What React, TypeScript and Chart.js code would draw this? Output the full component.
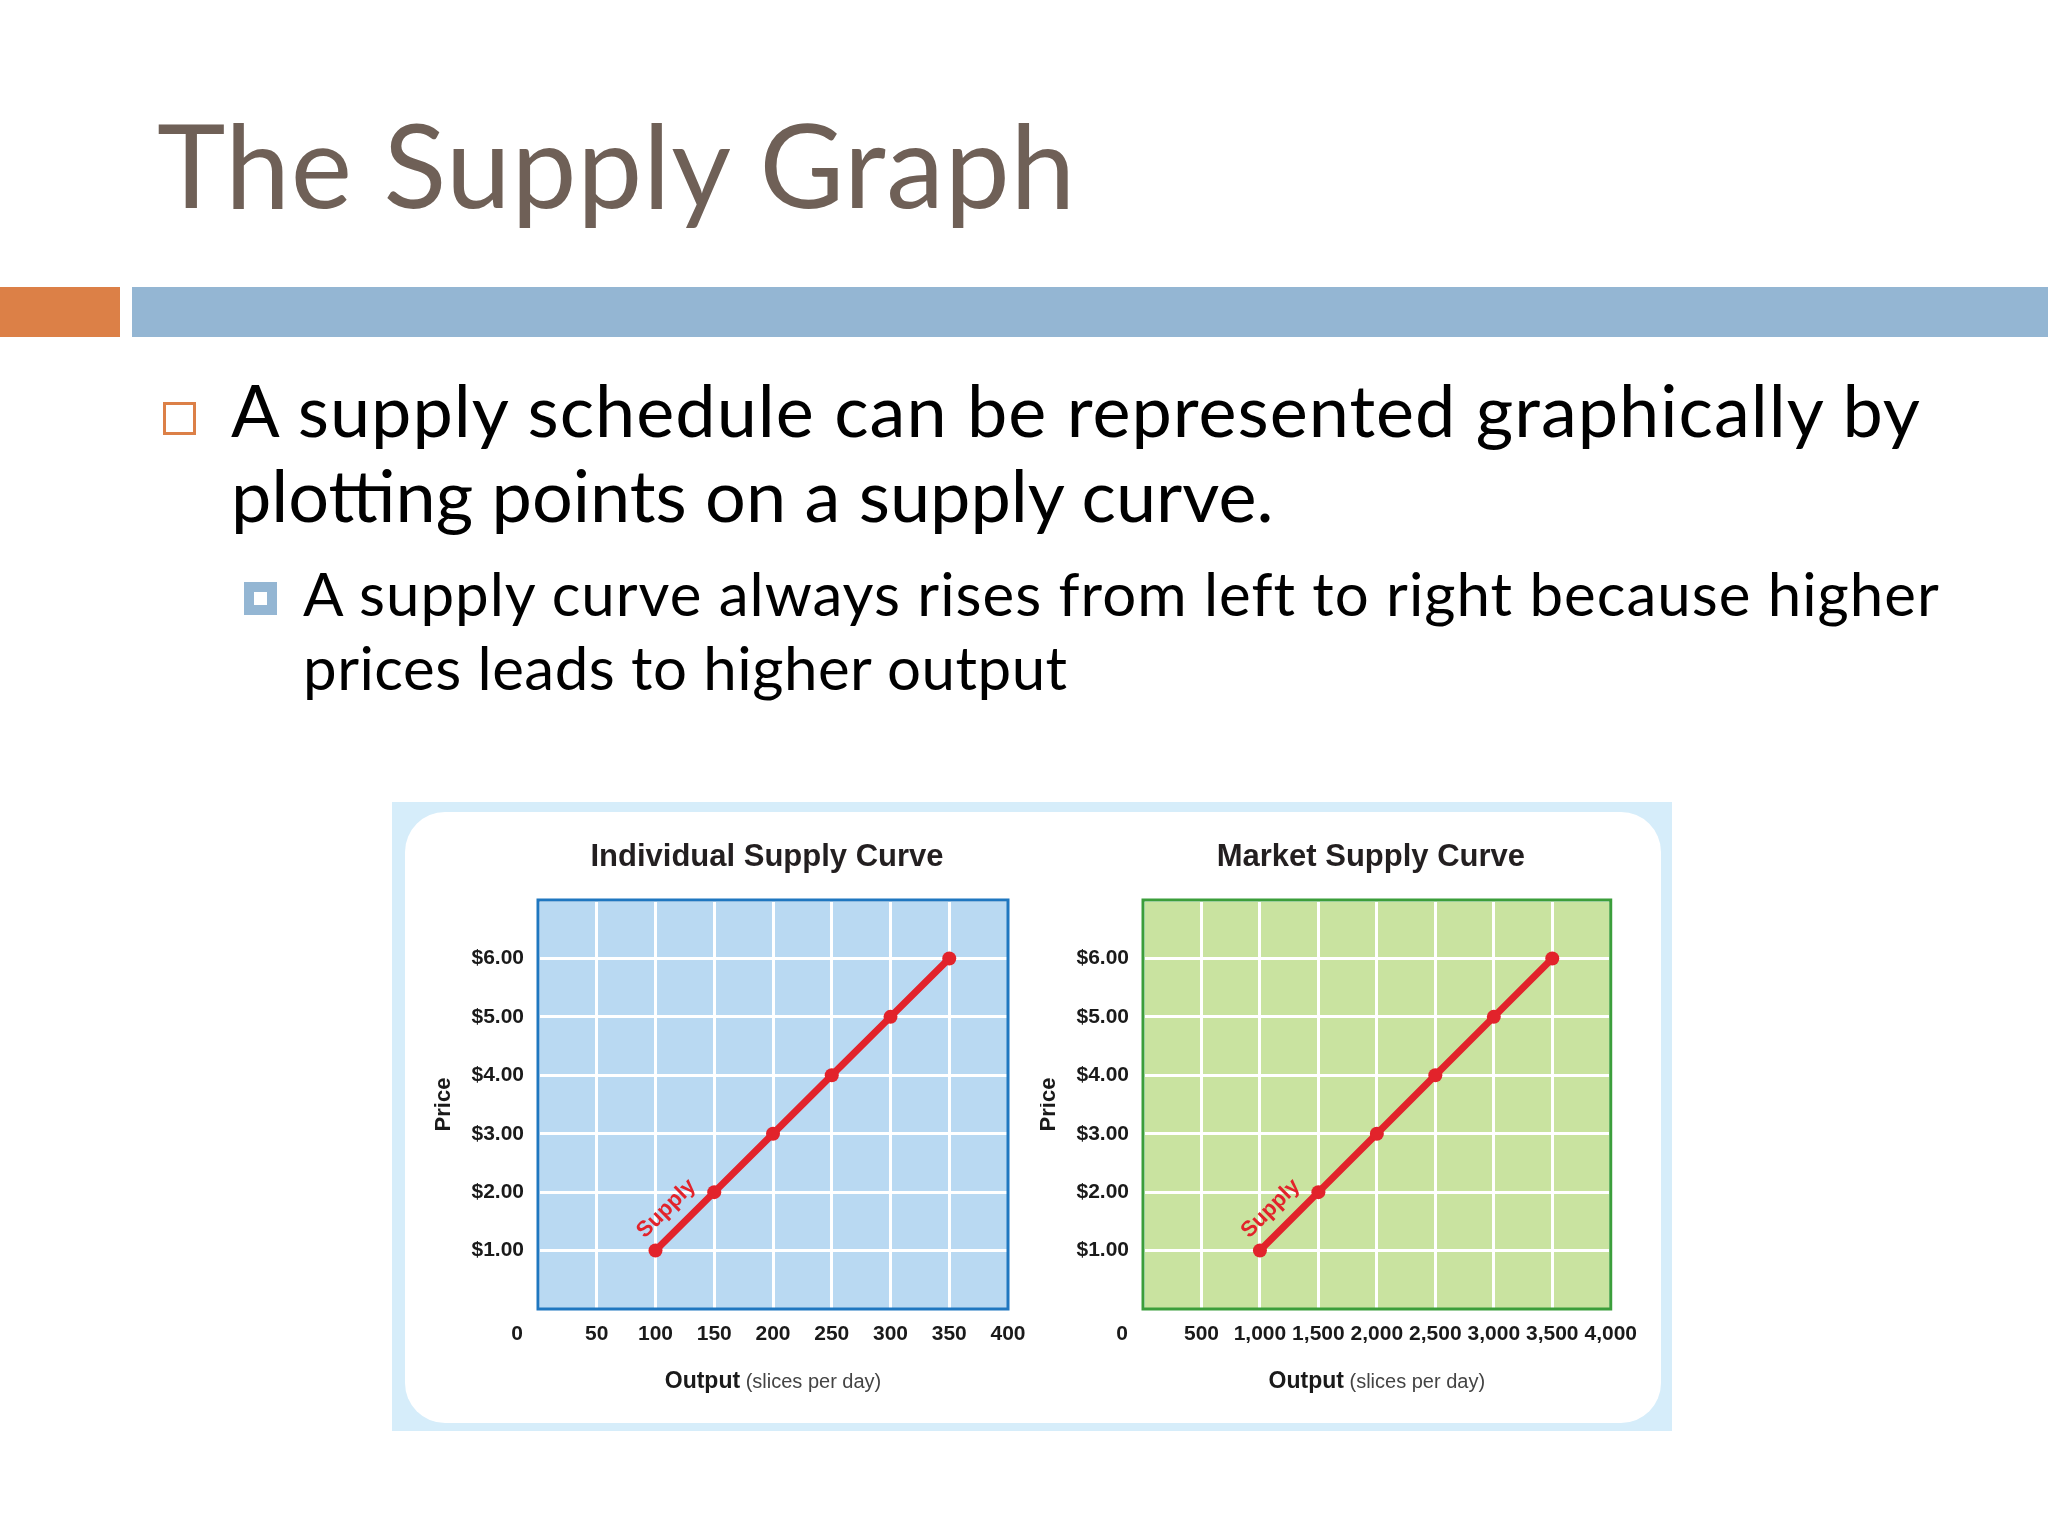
import React, { useEffect, useRef } from 'react';
import { Chart, registerables } from 'chart.js';

Chart.register(...registerables);

// ---------- data ----------
const prices = [1, 2, 3, 4, 5, 6];
const individualOutput = [100, 150, 200, 250, 300, 350];
const marketOutput = [1000, 1500, 2000, 2500, 3000, 3500];
const priceTickLabels = ['$1.00', '$2.00', '$3.00', '$4.00', '$5.00', '$6.00'];
const individualXTickLabels = ['50', '100', '150', '200', '250', '300', '350', '400'];
const marketXTickLabels = ['500', '1,000', '1,500', '2,000', '2,500', '3,000', '3,500', '4,000'];

const RED = '#e2232b';
const NARROW = "'Liberation Sans', Arial, sans-serif";
const BODY = "Lato, 'Open Sans', sans-serif";

type ChartProps = {
  left: number;
  top: number;
  width: number;
  height: number;
  padRight: number;
  yAxisWidth: number;
  title: string;
  xs: number[];
  xMax: number;
  xStep: number;
  xTickLabels: string[];
  fill: string;
  border: string;
};

function makeDecor(p: ChartProps) {
  return {
    id: 'decor',
    beforeDraw(chart: any) {
      const { ctx, chartArea: a } = chart;
      ctx.save();
      ctx.fillStyle = p.fill;
      ctx.fillRect(a.left, a.top, a.right - a.left, a.bottom - a.top);
      ctx.restore();
    },
    beforeDatasetsDraw(chart: any) {
      const { ctx, chartArea: a } = chart;
      ctx.save();
      ctx.strokeStyle = p.border;
      ctx.lineWidth = 3;
      ctx.strokeRect(a.left, a.top, a.right - a.left, a.bottom - a.top);
      ctx.restore();
    },
    afterDraw(chart: any) {
      const { ctx, chartArea: a } = chart;
      const cx = (a.left + a.right) / 2;
      ctx.save();
      // title
      ctx.fillStyle = '#231f20';
      ctx.font = "bold 31px 'Liberation Sans', Arial, sans-serif";
      ctx.textAlign = 'center';
      ctx.textBaseline = 'middle';
      ctx.fillText(p.title, cx - 6, 37);

      // origin label
      ctx.font = `bold 21px ${NARROW}`;
      ctx.fillStyle = '#1a1a1a';
      ctx.fillText('0', chart.scales.x.getPixelForValue(0) - 21, a.bottom + 25);

      // Price
      ctx.save();
      ctx.translate(a.left - 94, (a.top + a.bottom) / 2);
      ctx.rotate(-Math.PI / 2);
      ctx.font = `bold 22px ${NARROW}`;
      ctx.fillText('Price', 0, 0);
      ctx.restore();

      // Output (slices per day)
      const b = 'Output';
      const r = ' (slices per day)';
      ctx.font = `bold 23px ${NARROW}`;
      const wb = ctx.measureText(b).width;
      ctx.font = `20px ${NARROW}`;
      const wr = ctx.measureText(r).width;
      const x0 = cx - (wb + wr) / 2;
      ctx.textAlign = 'left';
      ctx.textBaseline = 'alphabetic';
      ctx.font = `bold 23px ${NARROW}`;
      ctx.fillStyle = '#1a1a1a';
      ctx.fillText(b, x0, a.bottom + 79);
      ctx.font = `20px ${NARROW}`;
      ctx.fillStyle = '#444';
      ctx.fillText(r, x0 + wb, a.bottom + 79);

      // Supply label along first segment
      const pts = chart.getDatasetMeta(0).data;
      const p0 = pts[0];
      const p1 = pts[1];
      const ang = Math.atan2(p1.y - p0.y, p1.x - p0.x);
      const mx = (p0.x + p1.x) / 2;
      const my = (p0.y + p1.y) / 2;
      const nx = Math.sin(ang);
      const ny = -Math.cos(ang);
      const off = 22;
      const along = -4;
      ctx.translate(mx + nx * off + Math.cos(ang) * along, my + ny * off + Math.sin(ang) * along);
      ctx.rotate(ang);
      ctx.textAlign = 'center';
      ctx.textBaseline = 'middle';
      ctx.fillStyle = RED;
      ctx.font = `bold 22px ${NARROW}`;
      ctx.fillText('Supply', 0, 0);
      ctx.restore();
    },
  };
}

function SupplyChart(p: ChartProps) {
  const ref = useRef<HTMLCanvasElement>(null);
  useEffect(() => {
    const tickFont = { family: NARROW, size: 21, weight: 'bold' as const };
    const chart = new Chart(ref.current as HTMLCanvasElement, {
      type: 'line',
      data: {
        datasets: [
          {
            data: p.xs.map((x, i) => ({ x, y: prices[i] })),
            borderColor: RED,
            backgroundColor: RED,
            borderWidth: 7,
            pointRadius: 7,
            pointBackgroundColor: RED,
            pointBorderWidth: 0,
            tension: 0,
            clip: false as any,
          },
        ],
      },
      options: {
        animation: false,
        responsive: false,
        devicePixelRatio: 1,
        layout: { padding: { top: 80, right: p.padRight, left: 0, bottom: 0 } },
        plugins: {
          legend: { display: false },
          tooltip: { enabled: false },
          title: { display: false },
        },
        scales: {
          x: {
            type: 'linear',
            min: 0,
            max: p.xMax,
            ticks: {
              stepSize: p.xStep,
              autoSkip: false,
              maxRotation: 0,
              padding: 13,
              color: '#1a1a1a',
              font: tickFont,
              callback: (v: any) => {
                const i = Math.round(Number(v) / p.xStep) - 1;
                return i >= 0 ? p.xTickLabels[i] : '';
              },
            },
            grid: { color: '#ffffff', lineWidth: 3, drawTicks: false },
            border: { display: false },
            afterFit: (s: any) => {
              s.height = p.height - 489;
            },
          },
          y: {
            type: 'linear',
            min: 0,
            max: 7,
            ticks: {
              stepSize: 1,
              autoSkip: false,
              padding: 14,
              color: '#1a1a1a',
              font: tickFont,
              callback: (v: any) => {
                const n = Number(v);
                return n >= 1 && n <= 6 ? priceTickLabels[n - 1] : '';
              },
            },
            grid: { color: '#ffffff', lineWidth: 3, drawTicks: false },
            border: { display: false },
            afterFit: (s: any) => {
              s.width = p.yAxisWidth;
            },
          },
        },
      },
      plugins: [makeDecor(p)],
    } as any);
    return () => chart.destroy();
  }, []);
  return (
    <canvas
      ref={ref}
      width={p.width}
      height={p.height}
      style={{ position: 'absolute', left: p.left, top: p.top, width: p.width, height: p.height }}
    />
  );
}

function Line({
  text,
  left,
  baseline,
  size,
  color = '#000',
  spacing = 0,
}: {
  text: string;
  left: number;
  baseline: number;
  size: number;
  color?: string;
  spacing?: number;
}) {
  return (
    <div
      style={{
        position: 'absolute',
        left,
        top: baseline - 0.887 * size,
        fontSize: size,
        lineHeight: `${size}px`,
        fontFamily: BODY,
        color,
        whiteSpace: 'nowrap',
        letterSpacing: spacing,
      }}
    >
      {text}
    </div>
  );
}

export default function App() {
  return (
    <div
      style={{
        position: 'absolute',
        left: 0,
        top: 0,
        width: 2048,
        height: 1536,
        background: '#ffffff',
        overflow: 'hidden',
      }}
    >
      <Line text="The Supply Graph" left={157} baseline={209} size={116} color="#6f6057" spacing={0.8} />
      <div style={{ position: 'absolute', left: 0, top: 287, width: 120, height: 50, background: '#dc8047' }} />
      <div style={{ position: 'absolute', left: 132, top: 287, width: 1916, height: 50, background: '#94b6d3' }} />

      <div
        style={{
          position: 'absolute',
          left: 163,
          top: 402,
          width: 27,
          height: 27,
          border: '3px solid #dc8047',
          background: '#fff',
        }}
      />
      <Line text="A supply schedule can be represented graphically by" left={231} baseline={437} size={72} spacing={1} />
      <Line text="plotting points on a supply curve." left={231} baseline={522} size={72} spacing={0} />

      <div
        style={{
          position: 'absolute',
          left: 244,
          top: 582,
          width: 33,
          height: 33,
          background: '#94b6d3',
        }}
      >
        <div style={{ position: 'absolute', left: 10, top: 10, width: 13, height: 13, background: '#fff' }} />
      </div>
      <Line text="A supply curve always rises from left to right because higher" left={303} baseline={616} size={60} spacing={1} />
      <Line text="prices leads to higher output" left={303} baseline={690} size={60} spacing={0.5} />

      <div style={{ position: 'absolute', left: 392, top: 802, width: 1280, height: 629, background: '#d6edfa' }} />
      <div
        style={{
          position: 'absolute',
          left: 405,
          top: 812,
          width: 1256,
          height: 611,
          background: '#ffffff',
          borderRadius: 40,
        }}
      />

      <SupplyChart
        left={420}
        top={820}
        width={620}
        height={600}
        padRight={32}
        yAxisWidth={118}
        title="Individual Supply Curve"
        xs={individualOutput}
        xMax={400}
        xStep={50}
        xTickLabels={individualXTickLabels}
        fill="#b9d9f2"
        border="#1f77c0"
      />
      <SupplyChart
        left={1040}
        top={820}
        width={610}
        height={600}
        padRight={37}
        yAxisWidth={103}
        title="Market Supply Curve"
        xs={marketOutput}
        xMax={4000}
        xStep={500}
        xTickLabels={marketXTickLabels}
        fill="#c9e3a0"
        border="#3b9e3b"
      />
    </div>
  );
}
